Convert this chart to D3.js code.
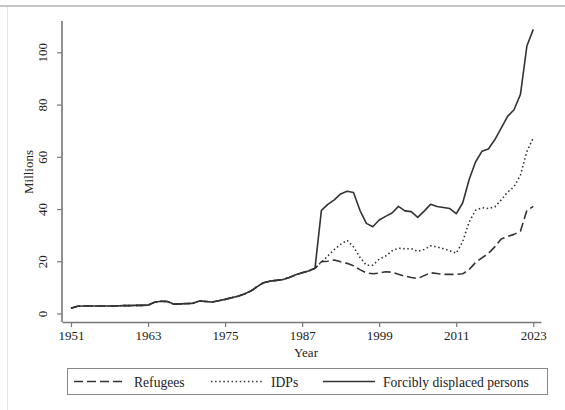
<!DOCTYPE html>
<html>
<head>
<meta charset="utf-8">
<script src="https://cdn.jsdelivr.net/npm/d3@7"></script>
<style>
  body { margin: 0; background: #fff; }
  svg text { font-family: "Liberation Serif", "Times New Roman", serif; fill: #222; }
</style>
</head>
<body>
<div id="chart"></div>
<script>
(function() {
  var width = 565,
      height = 410;

  // data, millions, one value per year 1951..2023
  var years = d3.range(1951, 2024);

  var refugees = [
    2.0, 2.8, 2.9, 2.9, 2.9, 2.9, 2.9, 2.9, 3.0, 3.0,
    3.1, 3.1, 3.2, 4.3, 4.7, 4.6, 3.6, 3.7, 3.8, 3.9,
    4.8, 4.6, 4.4, 4.9, 5.4, 6.0, 6.6, 7.5, 8.6, 10.3,
    11.8, 12.4, 12.7, 13.0, 13.8, 14.8, 15.6, 16.3, 17.3, 19.8,
    20.0, 20.5, 19.8, 19.2, 18.3, 16.8, 15.5, 15.2, 15.5, 16.0,
    15.8, 15.0, 14.3, 13.8, 13.4, 14.5, 15.6, 15.3, 15.0, 15.0,
    15.0, 15.2, 16.8, 19.5, 21.3, 23.0, 25.5, 28.5, 29.5, 30.3,
    31.5, 39.5, 41.0
  ];

  var idps = [
    2.0, 2.8, 2.9, 2.9, 2.9, 2.9, 2.9, 2.9, 3.0, 3.0,
    3.1, 3.1, 3.2, 4.3, 4.7, 4.6, 3.6, 3.7, 3.8, 3.9,
    4.8, 4.6, 4.4, 4.9, 5.4, 6.0, 6.6, 7.5, 8.6, 10.3,
    11.8, 12.4, 12.7, 13.0, 13.8, 14.8, 15.6, 16.3, 17.3, 19.7,
    22.0, 24.5, 26.5, 28.0, 25.5, 21.5, 18.5, 18.5, 20.8, 22.0,
    24.0, 25.0, 24.8, 24.8, 23.8, 24.5, 25.9, 25.5, 24.8, 24.0,
    23.1, 27.5, 35.0, 39.5, 40.5, 40.2, 40.8, 43.5, 46.5, 48.5,
    53.0, 62.0, 67.3
  ];

  var displaced = [
    2.0, 2.8, 2.9, 2.9, 2.9, 2.9, 2.9, 2.9, 3.0, 3.0,
    3.1, 3.1, 3.2, 4.3, 4.7, 4.6, 3.6, 3.7, 3.8, 3.9,
    4.8, 4.6, 4.4, 4.9, 5.4, 6.0, 6.6, 7.5, 8.6, 10.3,
    11.8, 12.4, 12.7, 13.0, 13.8, 14.8, 15.6, 16.3, 17.3, 39.5,
    41.8, 43.5, 45.8, 46.8, 46.3, 39.5, 34.5, 33.2, 35.8, 37.2,
    38.5, 41.0, 39.3, 39.0, 36.8, 39.2, 41.8, 41.0, 40.6, 40.2,
    38.2, 42.3, 51.2, 58.0, 62.1, 63.0, 66.5, 71.0, 75.5, 78.0,
    83.9, 102.4, 108.8
  ];

  var xTicks = [1951, 1963, 1975, 1987, 1999, 2011, 2023];
  var yTicks = [0, 20, 40, 60, 80, 100];

  var seriesNames = ["Refugees", "IDPs", "Forcibly displaced persons"];
  var dashes = ["9,4", "1.5,2.6", null];

  var svg = d3.select("#chart")
    .append("svg")
    .attr("width", width)
    .attr("height", height);

  // page frame bits from the screenshot
  svg.append("line")
    .attr("x1", 0).attr("x2", width)
    .attr("y1", 6).attr("y2", 6)
    .attr("stroke", "#c4c4c8")
    .attr("stroke-width", 2);
  svg.append("line")
    .attr("x1", 7.5).attr("x2", 7.5)
    .attr("y1", 7).attr("y2", height)
    .attr("stroke", "#e6e6e6")
    .attr("stroke-width", 1);

  var x = d3.scaleLinear().domain([1949.6, 2024.2]).range([62, 541]);
  var y = d3.scaleLinear().domain([0, 112]).range([313.5, 21]);

  // x axis
  var xAxis = svg.append("g")
    .attr("transform", "translate(0," + 322 + ")")
    .call(d3.axisBottom(x).tickValues(xTicks).tickFormat(d3.format("d")).tickSize(5).tickSizeOuter(0).tickPadding(4));
  xAxis.select(".domain").attr("stroke", "#777").attr("stroke-width", 1.6);
  xAxis.selectAll(".tick line").attr("stroke", "#777").attr("stroke-width", 1.2);
  xAxis.selectAll(".tick text").attr("font-size", 13).attr("fill", "#222")
    .style("font-family", "Liberation Serif");

  // y axis
  var yAxis = svg.append("g")
    .attr("transform", "translate(" + 62 + ",0)")
    .call(d3.axisLeft(y).tickValues(yTicks).tickSize(5).tickSizeOuter(0));
  yAxis.select(".domain").attr("stroke", "#777").attr("stroke-width", 1.6)
    .attr("d", "M0," + y(112) + "V" + 322);
  yAxis.selectAll(".tick line").attr("stroke", "#777").attr("stroke-width", 1.2);
  yAxis.selectAll(".tick text")
    .attr("x", null).attr("dy", null)
    .attr("text-anchor", "middle")
    .attr("transform", "translate(-15.5,0) rotate(-90)")
    .attr("font-size", 13).attr("fill", "#222")
    .style("font-family", "Liberation Serif");

  svg.append("text")
    .attr("transform", "translate(33,172) rotate(-90)")
    .attr("text-anchor", "middle")
    .attr("font-size", 13)
    .text("Millions");

  svg.append("text")
    .attr("x", 306)
    .attr("y", 357)
    .attr("text-anchor", "middle")
    .attr("font-size", 13)
    .text("Year");

  // lines
  var seriesData = [refugees, idps, displaced];
  var line = d3.line()
    .x(function(d, i) { return x(years[i]); })
    .y(function(d) { return y(d); });

  seriesData.forEach(function(vals, k) {
    svg.append("path")
      .datum(vals)
      .attr("d", line)
      .attr("fill", "none")
      .attr("stroke", "#333")
      .attr("stroke-width", 1.6)
      .attr("stroke-linejoin", "round")
      .attr("stroke-dasharray", dashes[k]);
  });

  // legend
  var legend = svg.append("g");
  legend.append("rect")
    .attr("x", 67.5).attr("y", 368.5)
    .attr("width", 480).attr("height", 26)
    .attr("fill", "#fff")
    .attr("stroke", "#888")
    .attr("stroke-width", 1);

  var legendX = [74, 211, 323];
  seriesNames.forEach(function(name, k) {
    legend.append("line")
      .attr("x1", legendX[k]).attr("x2", legendX[k] + 52)
      .attr("y1", 381.5).attr("y2", 381.5)
      .attr("stroke", "#333")
      .attr("stroke-width", 1.6)
      .attr("stroke-dasharray", dashes[k]);
    legend.append("text")
      .attr("x", legendX[k] + 60)
      .attr("y", 386.5)
      .attr("font-size", 13.6)
      .text(name);
  });
})();
</script>
</body>
</html>
